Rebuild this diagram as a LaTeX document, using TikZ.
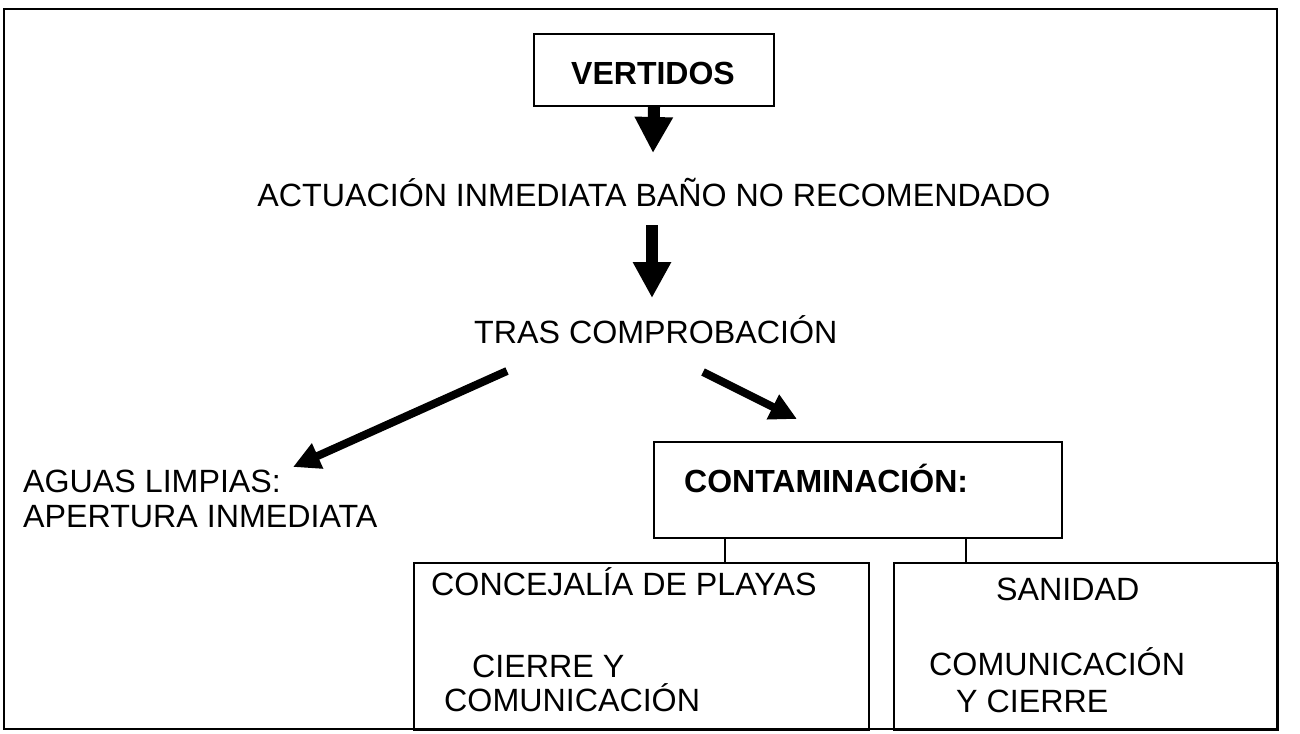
\documentclass[tikz,border=0pt]{standalone}
\usepackage{fontspec}
\setmainfont{Liberation Sans}
\usetikzlibrary{arrows.meta}
\tikzset{
  box/.style={draw, line width=2pt, inner sep=0pt, anchor=north west},
  txt/.style={inner sep=0pt, anchor=base west, font=\fontsize{32.2pt}{35pt}\selectfont},
  btxt/.style={inner sep=0pt, anchor=base west, font=\fontsize{32pt}{35pt}\selectfont\bfseries},
  bigarrow/.style={line width=12pt, -{Triangle[width=36pt,length=36pt]}},
  diagarrow/.style={line width=8pt, -{Triangle[width=26pt,length=27pt]}},
  link/.style={line width=1.5pt},
  frame/.style={line width=2.5pt},
}
\begin{document}
\begin{tikzpicture}[x=1pt,y=-1pt]
\useasboundingbox (0,0) rectangle (1300,733);
% outer frame
\draw[frame] (4,9) rectangle (1277,729);

% boxes
\node[box, minimum width=240pt, minimum height=72pt] (vbox) at (533,33) {};
\node[box, minimum width=408pt, minimum height=96pt] (cbox) at (653,441) {};
\node[box, minimum width=455pt, minimum height=167pt] (lbox) at (413,562) {};
\node[box, minimum width=384pt, minimum height=167pt] (rbox) at (893,562) {};

% texts
\node[btxt] (vert) at (571,85) {VERTIDOS};
\node[txt, anchor=base] (act) at (654,206) {ACTUACIÓN INMEDIATA BAÑO NO RECOMENDADO};
\node[txt] (tras) at (474,343) {TRAS COMPROBACIÓN};
\node[btxt] (cont) at (684,492) {CONTAMINACIÓN:};
\node[txt] (aguas) at (23,492) {AGUAS LIMPIAS:};
\node[txt] (apert) at (23,527) {APERTURA INMEDIATA};
\node[txt] (conc) at (431,595) {CONCEJALÍA DE PLAYAS};
\node[txt] (cierre1) at (472,677) {CIERRE Y};
\node[txt] (comu1) at (444,711) {COMUNICACIÓN};
\node[txt] (sani) at (996,600) {SANIDAD};
\node[txt] (comu2) at (929,675) {COMUNICACIÓN};
\node[txt] (cierre2) at (956,712) {Y CIERRE};

% arrows
\coordinate (a1e) at (653,153);
\draw[bigarrow] (vbox.south) -- (a1e);
\coordinate (a2s) at (652,225);
\coordinate (a2e) at (652,298);
\draw[bigarrow] (a2s) -- (a2e);
\coordinate (dls) at (507,371);
\coordinate (dle) at (293,467);
\draw[diagarrow] (dls) -- (dle);
\coordinate (drs) at (703,372);
\coordinate (dre) at (797,419);
\draw[diagarrow] (drs) -- (dre);

% links
\coordinate (k1) at (725,562);
\coordinate (k2) at (966,562);
\draw[link] (k1 |- cbox.south) -- (k1);
\draw[link] (k2 |- cbox.south) -- (k2);
\end{tikzpicture}
\end{document}
